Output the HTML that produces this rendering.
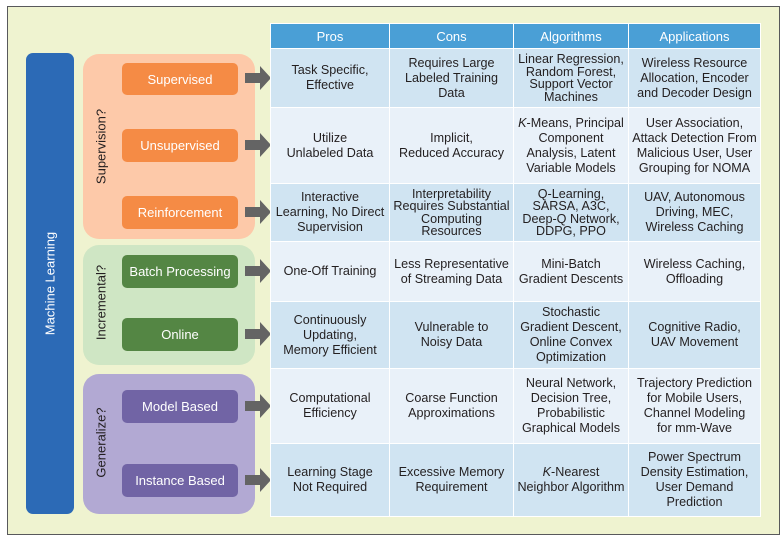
<!DOCTYPE html>
<html><head><meta charset="utf-8"><style>
*{margin:0;padding:0;box-sizing:border-box}
body{width:784px;height:537px;background:#fff;position:relative;overflow:hidden;font-family:"Liberation Sans",sans-serif;color:#231f20}
.a{position:absolute}
.frame{left:7px;top:6px;width:773px;height:529px;background:#eff3d0;border:1.5px solid #58595b}
.grp{border-radius:16px}
.btn{position:absolute;left:122px;width:116px;border-radius:5px;color:#fff;font-size:13px;display:flex;align-items:center;justify-content:center}
.or{background:#f58b45}.gr{background:#548644}.pu{background:#7164a5}
.vt{position:absolute;transform:rotate(-90deg);transform-origin:center;font-size:13px;white-space:nowrap;text-align:center}
.arr{position:absolute;left:245px;width:26px;height:16px}
.c{position:absolute;display:flex;align-items:center;justify-content:center;text-align:center;font-size:12.6px;line-height:15px;border:1px solid #fff}
.h{background:#4a9fd6;color:#fff;font-size:13px}
.d{background:#d0e4f2}.l{background:#e9f1f9}
.t{line-height:12.5px}
</style></head><body>
<div class="a frame"></div>
<div class="a" style="left:26px;top:53px;width:48px;height:461px;background:#2c6ab6;border-radius:7px"></div>
<div class="vt" style="left:-30px;top:276px;width:160px;color:#fff">Machine Learning</div>

<div class="a grp" style="left:83px;top:54px;width:172px;height:185px;background:#fdc9a9"></div>
<div class="a grp" style="left:83px;top:245px;width:172px;height:120px;background:#cfe6c4"></div>
<div class="a grp" style="left:83px;top:374px;width:172px;height:140px;background:#b2a9d3"></div>
<div class="vt" style="left:41px;top:139px;width:120px">Supervision?</div>
<div class="vt" style="left:41px;top:295px;width:120px">Incremental?</div>
<div class="vt" style="left:41px;top:435px;width:120px">Generalize?</div>

<div class="btn or" style="top:63px;height:32px">Supervised</div>
<div class="btn or" style="top:129px;height:33px">Unsupervised</div>
<div class="btn or" style="top:196px;height:33px">Reinforcement</div>
<div class="btn gr" style="top:255px;height:33px">Batch Processing</div>
<div class="btn gr" style="top:318px;height:33px">Online</div>
<div class="btn pu" style="top:390px;height:33px">Model Based</div>
<div class="btn pu" style="top:464px;height:33px">Instance Based</div>

<svg class="a" style="left:0;top:0" width="784" height="537">
<g fill="#646464">
<path d="M245 73h15v-7l11 12-11 12v-7h-15z"/>
<path d="M245 140h15v-7l11 12-11 12v-7h-15z"/>
<path d="M245 207h15v-7l11 12-11 12v-7h-15z"/>
<path d="M245 266h15v-7l11 12-11 12v-7h-15z"/>
<path d="M245 329h15v-7l11 12-11 12v-7h-15z"/>
<path d="M245 401h15v-7l11 12-11 12v-7h-15z"/>
<path d="M245 475h15v-7l11 12-11 12v-7h-15z"/>
</g></svg>

<div class="c h" style="left:270px;top:23px;width:120px;height:26px">Pros</div>
<div class="c h" style="left:389px;top:23px;width:125px;height:26px">Cons</div>
<div class="c h" style="left:513px;top:23px;width:116px;height:26px">Algorithms</div>
<div class="c h" style="left:628px;top:23px;width:133px;height:26px">Applications</div>

<div class="c d" style="left:270px;top:48px;width:120px;height:60px">Task Specific,<br>Effective</div>
<div class="c d" style="left:389px;top:48px;width:125px;height:60px">Requires Large<br>Labeled Training<br>Data</div>
<div class="c d t" style="left:513px;top:48px;width:116px;height:60px">Linear Regression,<br>Random Forest,<br>Support Vector<br>Machines</div>
<div class="c d" style="left:628px;top:48px;width:133px;height:60px">Wireless Resource<br>Allocation, Encoder<br>and Decoder Design</div>

<div class="c l" style="left:270px;top:107px;width:120px;height:77px">Utilize<br>Unlabeled Data</div>
<div class="c l" style="left:389px;top:107px;width:125px;height:77px">Implicit,<br>Reduced Accuracy</div>
<div class="c l" style="left:513px;top:107px;width:116px;height:77px"><span><i>K</i>-Means, Principal<br>Component<br>Analysis, Latent<br>Variable Models</span></div>
<div class="c l" style="left:628px;top:107px;width:133px;height:77px">User Association,<br>Attack Detection From<br>Malicious User, User<br>Grouping for NOMA</div>

<div class="c d" style="left:270px;top:183px;width:120px;height:59px">Interactive<br>Learning, No Direct<br>Supervision</div>
<div class="c d t" style="left:389px;top:183px;width:125px;height:59px">Interpretability<br>Requires Substantial<br>Computing<br>Resources</div>
<div class="c d t" style="left:513px;top:183px;width:116px;height:59px">Q-Learning,<br>SARSA, A3C,<br>Deep-Q Network,<br>DDPG, PPO</div>
<div class="c d" style="left:628px;top:183px;width:133px;height:59px">UAV, Autonomous<br>Driving, MEC,<br>Wireless Caching</div>

<div class="c l" style="left:270px;top:241px;width:120px;height:61px">One-Off Training</div>
<div class="c l" style="left:389px;top:241px;width:125px;height:61px">Less Representative<br>of Streaming Data</div>
<div class="c l" style="left:513px;top:241px;width:116px;height:61px">Mini-Batch<br>Gradient Descents</div>
<div class="c l" style="left:628px;top:241px;width:133px;height:61px">Wireless Caching,<br>Offloading</div>

<div class="c d" style="left:270px;top:301px;width:120px;height:68px">Continuously<br>Updating,<br>Memory Efficient</div>
<div class="c d" style="left:389px;top:301px;width:125px;height:68px">Vulnerable to<br>Noisy Data</div>
<div class="c d" style="left:513px;top:301px;width:116px;height:68px">Stochastic<br>Gradient Descent,<br>Online Convex<br>Optimization</div>
<div class="c d" style="left:628px;top:301px;width:133px;height:68px">Cognitive Radio,<br>UAV Movement</div>

<div class="c l" style="left:270px;top:368px;width:120px;height:76px">Computational<br>Efficiency</div>
<div class="c l" style="left:389px;top:368px;width:125px;height:76px">Coarse Function<br>Approximations</div>
<div class="c l" style="left:513px;top:368px;width:116px;height:76px">Neural Network,<br>Decision Tree,<br>Probabilistic<br>Graphical Models</div>
<div class="c l" style="left:628px;top:368px;width:133px;height:76px">Trajectory Prediction<br>for Mobile Users,<br>Channel Modeling<br>for mm-Wave</div>

<div class="c d" style="left:270px;top:443px;width:120px;height:74px">Learning Stage<br>Not Required</div>
<div class="c d" style="left:389px;top:443px;width:125px;height:74px">Excessive Memory<br>Requirement</div>
<div class="c d" style="left:513px;top:443px;width:116px;height:74px"><span><i>K</i>-Nearest<br>Neighbor Algorithm</span></div>
<div class="c d" style="left:628px;top:443px;width:133px;height:74px">Power Spectrum<br>Density Estimation,<br>User Demand<br>Prediction</div>
</body></html>
